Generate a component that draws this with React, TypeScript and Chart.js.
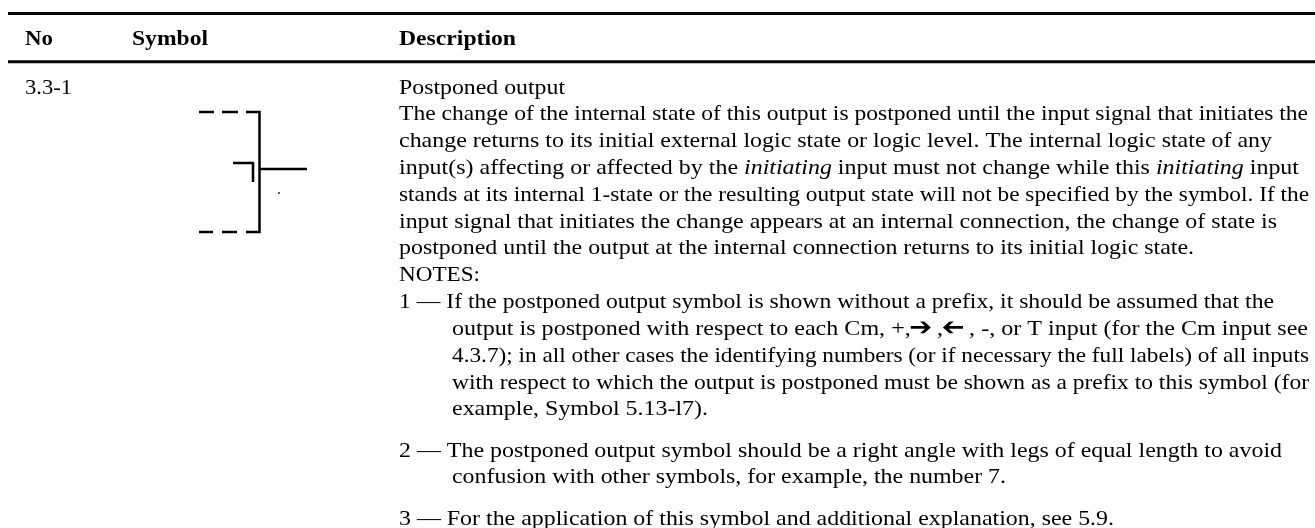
import React, { useEffect, useRef } from "react";
import { Chart, registerables } from "chart.js";

Chart.register(...registerables);

const WIDTH = 1315;
const HEIGHT = 528;

// Table rules
const topRule = [[8, 13.5], [1315, 13.5]];
const headRule = [[8, 61.8], [1315, 61.8]];

// Drawn symbol strokes
const symbolStrokes = [
  [[199, 112], [214, 112]],
  [[222, 112], [238, 112]],
  [[246, 112], [259.5, 112], [259.5, 232], [246, 232]],
  [[237, 232], [222, 232]],
  [[213, 232], [199, 232]],
  [[233, 163], [253, 163], [253, 182]],
  [[259.5, 169], [307, 169]],
];
const speck = [[279, 193]];

// Header and number column
const headerLabels = ["No", "Symbol", "Description"];
const headerX = [25, 132, 399];
const headerRight = [53, 208, 516];
const headerY = 45;
const rowNumber = "3.3-1";
const rowNumberX = 25;
const rowNumberRight = 72;
const rowNumberY = 93.5;

// Description text: runs separated by * switch to italic
const RIGHT_ARROW = "\u2794";
const LEFT_ARROW = "\u2B05";
const descriptionLines = [
  "Postponed output",
  "The change of the internal state of this output is postponed until the input signal that initiates the",
  "change returns to its initial external logic state or logic level. The internal logic state of any",
  "input(s) affecting or affected by the *initiating* input must not change while this *initiating* input",
  "stands at its internal 1-state or the resulting output state will not be specified by the symbol. If the",
  "input signal that initiates the change appears at an internal connection, the change of state is",
  "postponed until the output at the internal connection returns to its initial logic state.",
  "NOTES:",
  "1 \u2014 If the postponed output symbol is shown without a prefix, it should be assumed that the",
  `output is postponed with respect to each Cm, +,${RIGHT_ARROW} ,${LEFT_ARROW} , -, or T input (for the Cm input see`,
  "4.3.7); in all other cases the identifying numbers (or if necessary the full labels) of all inputs",
  "with respect to which the output is postponed must be shown as a prefix to this symbol (for",
  "example, Symbol 5.13-l7).",
  "2 \u2014 The postponed output symbol should be a right angle with legs of equal length to avoid",
  "confusion with other symbols, for example, the number 7.",
  "3 \u2014 For the application of this symbol and additional explanation, see 5.9.",
];
const descriptionX = [399, 399, 399, 399, 399, 399, 399, 399, 399, 452, 452, 452, 452, 399, 452, 399];
const descriptionRight = [565, 1308, 1272, 1299, 1309, 1277, 1194, 480, 1274, 1308, 1309, 1309, 708, 1282, 1006, 1114];
const descriptionY = [94, 120, 147, 174, 201, 228, 254, 281, 308, 335, 362, 389, 415, 457, 483, 525];

const FONT_FAMILY = '"Liberation Serif", "DejaVu Sans", serif';
const FONT_SIZE = 22;
const ARROW_FONT = '25px "DejaVu Sans"';

const pts = (a: number[][]) => a.map(([x, y]) => ({ x, y }));

function line(data: number[][], width: number) {
  return {
    data: pts(data),
    showLine: true,
    borderColor: "#000",
    borderWidth: width,
    pointRadius: 0,
    fill: false,
    clip: false as const,
    borderCapStyle: "butt" as const,
    borderJoinStyle: "miter" as const,
  };
}

function textSet(xs: number[], rights: number[], ys: number[], labels: string[], bold: boolean) {
  return {
    data: xs.map((x, i) => ({ x, y: ys[i] })),
    showLine: false,
    pointRadius: 0,
    textLabels: labels,
    textRights: rights,
    textBold: bold,
  };
}

// Wingdings-style arrows: the left one is the right one's glyph mirrored.
function drawArrow(ctx: any, glyph: string, slotX: number, slotWidth: number) {
  ctx.save();
  const keep = ctx.font;
  ctx.font = ARROW_FONT;
  const w = ctx.measureText(RIGHT_ARROW).width;
  ctx.translate(slotX + slotWidth / 2, 0);
  if (glyph === LEFT_ARROW) ctx.scale(-1, 1);
  ctx.fillText(RIGHT_ARROW, -w / 2, 0);
  ctx.font = keep;
  ctx.restore();
}

const textPlugin = {
  id: "tableText",
  afterDatasetsDraw(chart: any) {
    const ctx = chart.ctx;
    chart.data.datasets.forEach((ds: any, di: number) => {
      if (!ds.textLabels) return;
      const meta = chart.getDatasetMeta(di);
      ds.textLabels.forEach((label: string, i: number) => {
        const p = meta.data[i];
        const fontOf = (r: number) =>
          `${r % 2 === 1 ? "italic " : ds.textBold ? "bold " : ""}${FONT_SIZE}px ${FONT_FAMILY}`;
        const runs = label.split("*");
        let natural = 0;
        runs.forEach((run, r) => {
          ctx.font = fontOf(r);
          natural += ctx.measureText(run).width;
        });
        const right = chart.scales.x.getPixelForValue(ds.textRights[i]);
        ctx.save();
        ctx.fillStyle = "#000";
        ctx.textBaseline = "alphabetic";
        ctx.translate(p.x, p.y);
        ctx.scale((right - p.x) / natural, 1);
        let cx = 0;
        runs.forEach((run, r) => {
          ctx.font = fontOf(r);
          run.split(new RegExp(`(${RIGHT_ARROW}|${LEFT_ARROW})`)).forEach((piece) => {
            const w = ctx.measureText(piece).width;
            if (piece === RIGHT_ARROW || piece === LEFT_ARROW) drawArrow(ctx, piece, cx, w);
            else ctx.fillText(piece, cx, 0);
            cx += w;
          });
        });
        ctx.restore();
      });
    });
  },
};

export default function App() {
  const ref = useRef<HTMLCanvasElement>(null);
  useEffect(() => {
    if (!ref.current) return;
    const chart = new Chart(ref.current, {
      type: "scatter",
      data: {
        datasets: [
          line(topRule, 3),
          line(headRule, 3),
          ...symbolStrokes.map((s) => line(s, 2.5)),
          {
            data: pts(speck),
            pointRadius: 1,
            pointBackgroundColor: "#222",
            pointBorderWidth: 0,
            showLine: false,
          },
          textSet(headerX, headerRight, headerLabels.map(() => headerY), headerLabels, true),
          textSet([rowNumberX], [rowNumberRight], [rowNumberY], [rowNumber], false),
          textSet(descriptionX, descriptionRight, descriptionY, descriptionLines, false),
        ] as any,
      },
      options: {
        responsive: false,
        animation: false,
        events: [],
        layout: { padding: 0, autoPadding: false },
        plugins: { legend: { display: false }, tooltip: { enabled: false }, title: { display: false } },
        scales: {
          x: { type: "linear", min: 0, max: WIDTH, display: false },
          y: { type: "linear", min: 0, max: HEIGHT, reverse: true, display: false },
        },
      },
      plugins: [textPlugin],
    });
    return () => chart.destroy();
  }, []);
  return (
    <div style={{ position: "absolute", left: 0, top: 0, width: WIDTH, height: HEIGHT, background: "#fff" }}>
      <canvas ref={ref} width={WIDTH} height={HEIGHT} style={{ display: "block" }} />
    </div>
  );
}
